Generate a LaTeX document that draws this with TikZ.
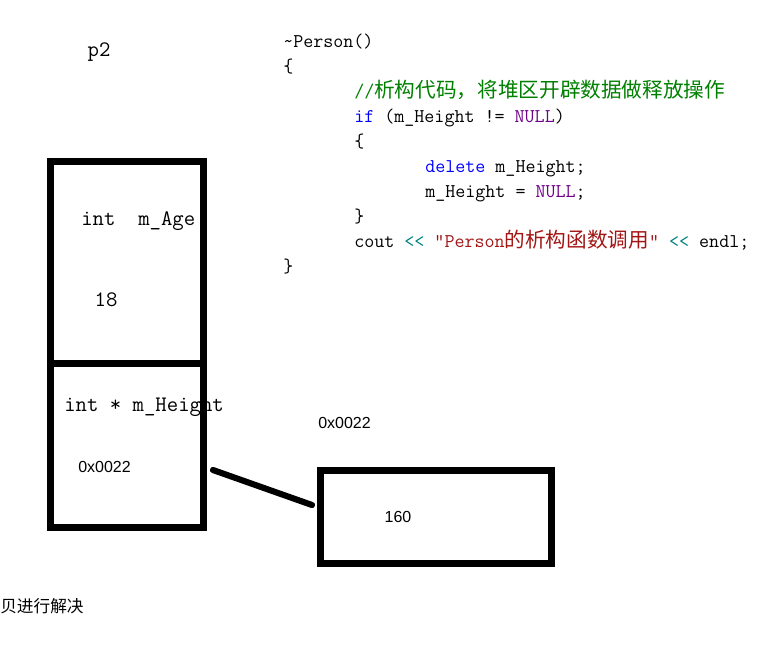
\documentclass[tikz,border=0pt]{standalone}
\usepackage{fontspec}
\usepackage{xcolor}
\usepackage{tikz}
\usetikzlibrary{positioning,calc}
\newfontfamily\cjk[Scale=1.06]{Noto Sans CJK SC}
\newfontfamily\arialfont{Liberation Sans}
\definecolor{cmtgreen}{RGB}{0,128,0}
\definecolor{kwblue}{RGB}{0,0,255}
\definecolor{nullpurple}{RGB}{111,0,138}
\definecolor{opteal}{RGB}{0,128,128}
\definecolor{strred}{RGB}{163,21,21}
\newcommand{\zh}[1]{{\cjk #1}}

\begin{document}
\begin{tikzpicture}[
  x=0.75pt, y=-0.75pt,
  cell/.style={draw, line width=5.25pt, outer sep=0pt, inner sep=0pt, minimum width=115.1pt},
  code/.style={anchor=base west, inner sep=0pt, font=\ttfamily\fontsize{14.6}{17}\selectfont},
  lbl/.style={inner sep=0pt, font=\ttfamily\fontsize{16.6}{19}\selectfont},
  addr/.style={inner sep=0pt, font=\arialfont\fontsize{12}{14}\selectfont},
  ptr/.style={line width=4.6pt, line cap=round}
]
  \useasboundingbox (0,0) rectangle (770,653);

  % object p2 on the stack
  \node[lbl] (objname) at (99,52) {p2};
  \node[cell, minimum height=151.5pt] (agebox) at (126.75,262) {};
  \node[cell, minimum height=123pt] (heightbox) [below=0pt of agebox] {};
  \node[lbl, anchor=base west] (agelbl) at (81,225) {int\ \ m\_Age};
  \node[lbl] (ageval) at (106,299.5) {18};
  \node[lbl, anchor=base west] (heightlbl) at (64,411) {int * m\_Height};
  \node[addr] (heightval) at (104.5,466.5) {0x0022};

  % heap memory
  \node[addr] (heapaddr) at (344.5,423) {0x0022};
  \node[cell, minimum width=173.25pt, minimum height=69.4pt] (valbox) at (436,516.75) {};
  \node[addr] (heapval) at (398,516.5) {160};

  \draw[ptr] ($(heightbox.east)+(9.5,25)$) -- ($(valbox.west)+(-8.5,-11.75)$);

  % destructor code
  \node[code] (dtor) at (283,47) {\textasciitilde Person()};
  \node[code] (lbrace) at (283,72) {\{};
  \node[code, text=cmtgreen] (comment) at (354,97) {//\zh{析构代码，将堆区开辟数据做释放操作}};
  \node[code] (ifline) at (354,122) {\textcolor{kwblue}{if} (m\_Height != \textcolor{nullpurple}{NULL})};
  \node[code] (ifbrace) at (354,147) {\{};
  \node[code] (delline) at (425,172) {\textcolor{kwblue}{delete} m\_Height;};
  \node[code] (nullline) at (425,197) {m\_Height = \textcolor{nullpurple}{NULL};};
  \node[code] (rbrace) at (354,222) {\}};
  \node[code] (coutline) at (354,247) {cout \textcolor{opteal}{<<} \textcolor{strred}{"Person\zh{的析构函数调用}"} \textcolor{opteal}{<<} endl;};
  \node[code] (endbrace) at (283,272) {\}};

  % cut-off caption
  \node[anchor=west, inner sep=0pt, font=\cjk\fontsize{11.8}{14}\selectfont] (caption) at (0,606) {贝进行解决};
\end{tikzpicture}
\end{document}
